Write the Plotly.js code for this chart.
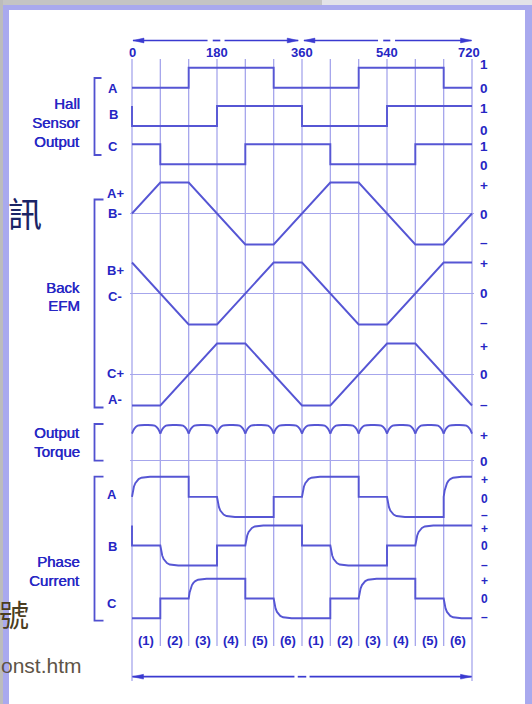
<!DOCTYPE html>
<html><head><meta charset="utf-8">
<script src="https://cdn.plot.ly/plotly-3.0.1.min.js"></script>
<style>html,body{margin:0;padding:0;background:#fff;}#chart{width:532px;height:704px;}</style>
</head><body><div id="chart"></div>
<script>
// ---------------- DATA (electrical angle in degrees) ----------------
const gridAngles = [0,60,120,180,240,300,360,420,480,540,600,660,720];
const degreeLabels = ['0','180','360','540','720'];
const degreeLabelAngles = [0,180,360,540,720];
const sectorLabels = ['(1)','(2)','(3)','(4)','(5)','(6)','(1)','(2)','(3)','(4)','(5)','(6)'];
const sectorCenters = [30,90,150,210,270,330,390,450,510,570,630,690];

// Hall sensor outputs (0/1)
const hallAx = [0,120,120,300,300,480,480,660,660,720];
const hallAy = [0,0,1,1,0,0,1,1,0,0];
const hallBx = [0,0,180,180,360,360,540,540,720];
const hallBy = [1,0,0,1,1,0,0,1,1];
const hallCx = [0,60,60,240,240,420,420,600,600,720];
const hallCy = [1,1,0,0,1,1,0,0,1,1];

// Back EMF (trapezoidal, -1..+1)
const emfABx = [0,60,120,240,300,420,480,600,660,720];
const emfABy = [0,1,1,-1,-1,1,1,-1,-1,0];
const emfBCx = [0,120,180,300,360,480,540,660,720];
const emfBCy = [1,-1,-1,1,1,-1,-1,1,1];
const emfCAx = [0,60,180,240,360,420,540,600,720];
const emfCAy = [-1,-1,1,1,-1,-1,1,1,-1];

// Output torque ripple (relative), one arc per 60 deg sector
const torqueX = [0,5,12,30,48,55,60,null,
  60,65,72,90,108,115,120,null,
  120,125,132,150,168,175,180,null,
  180,185,192,210,228,235,240,null,
  240,245,252,270,288,295,300,null,
  300,305,312,330,348,355,360,null,
  360,365,372,390,408,415,420,null,
  420,425,432,450,468,475,480,null,
  480,485,492,510,528,535,540,null,
  540,545,552,570,588,595,600,null,
  600,605,612,630,648,655,660,null,
  660,665,672,690,708,715,720];
const torqueY = [0.76,0.9,0.98,1,0.98,0.9,0.76,null,
  0.76,0.9,0.98,1,0.98,0.9,0.76,null,
  0.76,0.9,0.98,1,0.98,0.9,0.76,null,
  0.76,0.9,0.98,1,0.98,0.9,0.76,null,
  0.76,0.9,0.98,1,0.98,0.9,0.76,null,
  0.76,0.9,0.98,1,0.98,0.9,0.76,null,
  0.76,0.9,0.98,1,0.98,0.9,0.76,null,
  0.76,0.9,0.98,1,0.98,0.9,0.76,null,
  0.76,0.9,0.98,1,0.98,0.9,0.76,null,
  0.76,0.9,0.98,1,0.98,0.9,0.76,null,
  0.76,0.9,0.98,1,0.98,0.9,0.76,null,
  0.76,0.9,0.98,1,0.98,0.9,0.76];

// Phase currents (-1, 0, +1 with exponential transitions)
const phaseAx = [0,2,4,7,10,14,20,28,38, 120,120, 180,182,184,187,190,194,200,208,218, 300,300,
  360,362,364,367,370,374,380,388,398, 480,480, 540,542,544,547,550,554,560,568,578,
  660,660,662,664,667,670,674,680,688,698, 720];
const phaseAy = [0,0.3,0.5,0.68,0.79,0.88,0.95,0.985,1, 1,0, 0,-0.3,-0.5,-0.68,-0.79,-0.88,-0.95,-0.985,-1, -1,0,
  0,0.3,0.5,0.68,0.79,0.88,0.95,0.985,1, 1,0, 0,-0.3,-0.5,-0.68,-0.79,-0.88,-0.95,-0.985,-1,
  -1,0,0.3,0.5,0.68,0.79,0.88,0.95,0.985,1, 1];
const phaseBx = [0,0,60,62,64,67,70,74,80,88,98, 180,180, 240,242,244,247,250,254,260,268,278, 360,360,
  420,422,424,427,430,434,440,448,458, 540,540, 600,602,604,607,610,614,620,628,638, 720];
const phaseBy = [1,0,0,-0.3,-0.5,-0.68,-0.79,-0.88,-0.95,-0.985,-1, -1,0, 0,0.3,0.5,0.68,0.79,0.88,0.95,0.985,1, 1,0,
  0,-0.3,-0.5,-0.68,-0.79,-0.88,-0.95,-0.985,-1, -1,0, 0,0.3,0.5,0.68,0.79,0.88,0.95,0.985,1, 1];
const phaseCx = [0,60,60,120,122,124,127,130,134,140,148,158, 240,240, 300,302,304,307,310,314,320,328,338, 420,420,
  480,482,484,487,490,494,500,508,518, 600,600, 660,662,664,667,670,674,680,688,698, 720];
const phaseCy = [-1,-1,0,0,0.3,0.5,0.68,0.79,0.88,0.95,0.985,1, 1,0, 0,-0.3,-0.5,-0.68,-0.79,-0.88,-0.95,-0.985,-1, -1,0,
  0,0.3,0.5,0.68,0.79,0.88,0.95,0.985,1, 1,0, 0,-0.3,-0.5,-0.68,-0.79,-0.88,-0.95,-0.985,-1, -1];

// Right-hand level labels
const hallLevelLabels = ['1','0','1','0','1','0'];
const emfLevelLabels = ['+','0','–','+','0','–','+','0','–'];
const torqueLevelLabels = ['+','0'];
const phaseLevelLabels = ['+','0','–','+','0','–','+','0','–'];

// ---------------- LAYOUT ----------------
const W = 532, H = 704, X0 = 132, X1 = 472;
const kx = (X1 - X0) / 720;
const xPad = 4;
const px = v => v / W;
const py = v => 1 - v / H;
const FONT = 'Liberation Sans, Arial, Helvetica, sans-serif';
const SIG = '#5656d4', GRID = '#a6a6ec', TXT = '#2626c4', ARR = '#3a3ad0';

function yAxis(vHi, pHi, vLo, pLo, zl) {
  const pad = 6;
  const k = (pLo - pHi) / (vHi - vLo);
  const top = pHi - pad, bot = pLo + pad;
  return {
    domain: [py(bot), py(top)], range: [vLo - pad / k, vHi + pad / k],
    showgrid: false, showticklabels: false, ticks: '', showline: false,
    zeroline: !!zl, zerolinecolor: GRID, zerolinewidth: 1.3,
    anchor: 'x', fixedrange: true
  };
}

const layout = {
  width: W, height: H, margin: {l: 0, r: 0, t: 0, b: 0},
  paper_bgcolor: '#ffffff', plot_bgcolor: 'rgba(0,0,0,0)', showlegend: false,
  xaxis: {domain: [(X0 - xPad * kx) / W, (X1 + xPad * kx) / W], range: [-xPad, 720 + xPad], visible: false, fixedrange: true},
  yaxis:   yAxis(1, 67.7, 0, 87.7),
  yaxis2:  yAxis(1, 106, 0, 126),
  yaxis3:  yAxis(1, 144.3, 0, 164.3),
  yaxis4:  yAxis(1, 182.5, -1, 244.5, true),
  yaxis5:  yAxis(1, 262.5, -1, 324.5, true),
  yaxis6:  yAxis(1, 343.5, -1, 405.5, true),
  yaxis7:  yAxis(1, 425, 0, 460.7, true),
  yaxis8:  yAxis(1, 476.7, -1, 517),
  yaxis9:  yAxis(1, 525.5, -1, 565.5),
  yaxis10: yAxis(1, 578.7, -1, 618.3),
  shapes: [], annotations: []
};

// page frame
const S = layout.shapes;
function prect(x0, y0, x1, y1, c) {
  S.push({type: 'rect', xref: 'paper', yref: 'paper', x0: px(x0), x1: px(x1), y0: py(y1), y1: py(y0), fillcolor: c, line: {width: 0}, layer: 'below'});
}
prect(0, 0, 322, 5, '#c4c4c4');
prect(322, 0, 532, 5, '#e2e2e8');
prect(0, 5, 532, 10, '#a9a9ee');
prect(0, 0, 3, 704, '#bcbcbc');
prect(3, 5, 9, 704, '#a9a9ee');
prect(525, 5, 532, 704, '#a9a9ee');

// vertical grid lines
gridAngles.forEach((d, i) => {
  const outer = (i === 0 || i === gridAngles.length - 1);
  S.push({type: 'line', xref: 'x', yref: 'paper', x0: d, x1: d, y0: py(outer ? 681 : 646), y1: py(59),
    line: {color: GRID, width: 1.3}, layer: 'below'});
});

// dimension arrows
function hline(a0, a1, ypx) {
  S.push({type: 'line', xref: 'x', yref: 'paper', x0: a0, x1: a1, y0: py(ypx), y1: py(ypx), line: {color: ARR, width: 1.7}});
}
function head(a, dir, ypx) {
  const L = 11 / kx * dir; // 11 px long head
  S.push({type: 'path', xref: 'x', yref: 'paper',
    path: `M ${a},${py(ypx)} L ${a + L},${py(ypx - 2.4)} L ${a + L},${py(ypx + 2.4)} Z`,
    fillcolor: ARR, line: {color: ARR, width: 0.5}});
}
const yTop = 40.5, yBot = 676.7;
hline(2, 160, yTop); hline(171, 187, yTop); hline(196, 352, yTop); head(2, 1, yTop); head(352, -1, yTop);
hline(364, 521, yTop); hline(532, 547, yTop); hline(557, 719, yTop); head(364, 1, yTop); head(719, -1, yTop);
hline(1, 344, yBot); hline(351, 369, yBot); hline(376, 719, yBot); head(1, 1, yBot); head(719, -1, yBot);

// brackets
function bracket(top, bot, tip) {
  S.push({type: 'path', xref: 'paper', yref: 'paper',
    path: `M ${px(tip)},${py(top)} L ${px(94.5)},${py(top)} L ${px(94.5)},${py(bot)} L ${px(tip)},${py(bot)}`,
    line: {color: '#5050d0', width: 1.8}});
}
bracket(78, 155, 101.5);
bracket(199.5, 407.5, 103.5);
bracket(424, 460.7, 103.5);
bracket(476.7, 620.7, 103.5);

// text annotations
const A = layout.annotations;
function txt(text, x, y, o) {
  o = o || {};
  const f = {family: o.family || FONT, size: o.size || 13, color: o.color || TXT, weight: o.weight || 700};
  if (o.shadow) f.shadow = o.shadow;
  A.push({text: text, xref: 'paper', yref: 'paper', x: px(x), y: py(y), showarrow: false,
    xanchor: o.xa || 'center', yanchor: 'middle', font: f});
}
// group labels
[['Hall', 104], ['Sensor', 123], ['Output', 142], ['Back', 287], ['EFM', 306],
 ['Output', 432], ['Torque', 451], ['Phase', 561], ['Current', 580]].forEach(t =>
  txt(t[0], 82, t[1], {xa: 'right', size: 15, weight: 400, shadow: '0.5px 0 0 #2626c4'}));
// signal labels
[['A', 113, 88], ['B', 113, 115], ['C', 113, 146],
 ['A+', 115, 193], ['B-', 115, 213.5], ['B+', 115, 270], ['C-', 115, 296], ['C+', 115, 373.5], ['A-', 115, 399.5],
 ['A', 112, 494.5], ['B', 112, 546], ['C', 112, 603]].forEach(t => txt(t[0], t[1], t[2], {size: 13}));
// right level labels
const hallLY = [64, 88, 108, 130, 146, 165];
hallLevelLabels.forEach((t, i) => txt(t, 484, hallLY[i], {size: 13.5}));
const emfLY = [186, 214, 242, 263, 293, 322, 346, 374, 404];
emfLevelLabels.forEach((t, i) => txt(t, 484, emfLY[i], {size: 13.5}));
const torLY = [435, 461];
torqueLevelLabels.forEach((t, i) => txt(t, 484, torLY[i], {size: 13.5}));
const phLY = [479.5, 499, 515, 529, 546, 564.5, 581, 599, 616.5];
phaseLevelLabels.forEach((t, i) => txt(t, 484, phLY[i], {size: 12}));
// degree labels on top
degreeLabelAngles.forEach((d, i) => {
  A.push({text: degreeLabels[i], xref: 'x', yref: 'paper', x: d, y: py(52.5), showarrow: false,
    xanchor: 'center', yanchor: 'middle', xshift: (d === 720 ? -3 : 0),
    font: {family: FONT, size: 13, color: TXT, weight: 700}});
});
// sector labels
sectorCenters.forEach((d, i) => {
  A.push({text: sectorLabels[i], xref: 'x', yref: 'paper', x: d, y: py(640), showarrow: false,
    xanchor: 'center', yanchor: 'middle', font: {family: FONT, size: 13, color: TXT, weight: 700}});
});
// background slide text bleeding through
txt('訊', 25, 213, {size: 34, color: '#1b2466', weight: 400, family: 'Noto Sans CJK TC, sans-serif'});
txt('號', 31, 613, {xa: 'right', size: 30, color: '#4b3d20', weight: 400, family: 'Noto Sans CJK TC, sans-serif'});
txt('onst.htm', 84, 665, {xa: 'right', size: 21, color: '#5e5446', weight: 400});

// ---------------- TRACES ----------------
function tr(x, y, ax, shape) {
  return {x: x, y: y, xaxis: 'x', yaxis: ax, type: 'scatter', mode: 'lines', hoverinfo: 'skip',
    connectgaps: false, line: {color: SIG, width: 1.9, shape: shape || 'linear'}};
}
const data = [
  tr(hallAx, hallAy, 'y'), tr(hallBx, hallBy, 'y2'), tr(hallCx, hallCy, 'y3'),
  tr(emfABx, emfABy, 'y4'), tr(emfBCx, emfBCy, 'y5'), tr(emfCAx, emfCAy, 'y6'),
  tr(torqueX, torqueY, 'y7', 'spline'),
  tr(phaseAx, phaseAy, 'y8'), tr(phaseBx, phaseBy, 'y9'), tr(phaseCx, phaseCy, 'y10')
];

Plotly.newPlot('chart', data, layout, {staticPlot: true, displayModeBar: false});
</script></body></html>
